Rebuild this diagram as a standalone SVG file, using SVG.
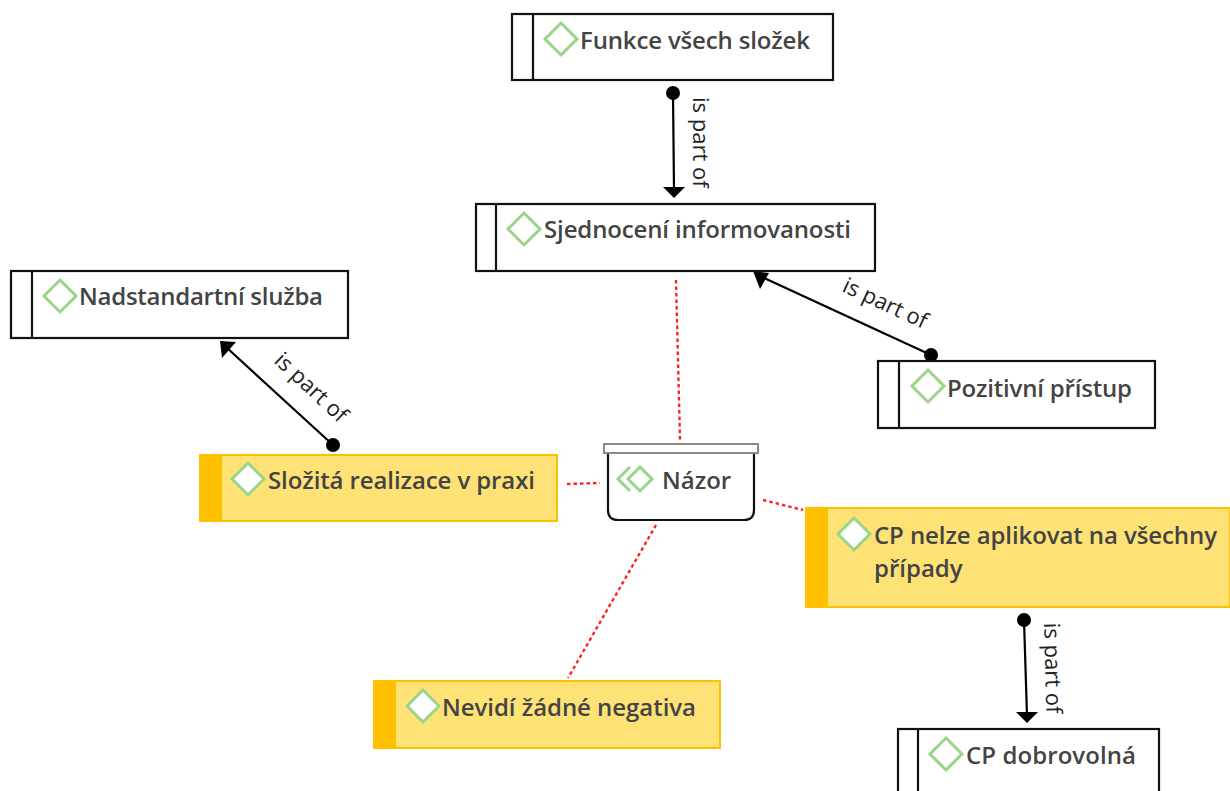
<svg xmlns="http://www.w3.org/2000/svg" width="1230" height="791" viewBox="0 0 1230 791">
<style>
.box{fill:#fff;stroke:#111;stroke-width:2.2}
.div{stroke:#111;stroke-width:2.2;fill:none}
.yb{fill:#fee276;stroke:#ffc000;stroke-width:2}
.ybar{fill:#ffc000}
.dia{fill:#fff;stroke:#9ad488;stroke-width:3}
.t{font-family:"Open Sans","Noto Sans",sans-serif;font-weight:600;font-size:24px;fill:#444}
.l{font-family:"Open Sans","Noto Sans",sans-serif;font-size:22px;fill:#222}
.c{stroke:#000;stroke-width:2.2;fill:none}
.r{stroke:#f22;stroke-width:2.4;stroke-dasharray:3.5 3;fill:none}
</style>
<rect width="1230" height="791" fill="#fff"/>
<g id="connectors">
<path class="r" d="M676 280L680 440"/>
<path class="r" d="M567 484L600 483"/>
<path class="r" d="M763 500L803 510"/>
<path class="r" d="M656 525L568 678"/>
<path class="c" d="M673 93L674 190"/>
<polygon points="663,187 685,187 674,198"/>
<circle cx="673" cy="93" r="7"/>
<path class="c" d="M931 355L762 277"/>
<polygon points="753,271 769,273 760,289"/>
<circle cx="931" cy="355" r="7"/>
<path class="c" d="M333 445L226 347"/>
<polygon points="220,341 236,342 222,358"/>
<circle cx="333" cy="445" r="7"/>
<path class="c" d="M1024 620L1027 716"/>
<polygon points="1016,712 1038,712 1027,723"/>
<circle cx="1024" cy="620" r="7"/>
<text class="l" transform="translate(693,97) rotate(90)">is part of</text>
<text class="l" transform="translate(841,291) rotate(24.8)">is part of</text>
<text class="l" transform="translate(273,362) rotate(43)">is part of</text>
<text class="l" transform="translate(1044,623) rotate(88.5)">is part of</text>
</g>
<g id="n1"><rect class="box" x="512" y="14" width="321" height="66"/><path class="div" d="M533 14V80"/><polygon class="dia" points="561,23 577,39 561,55 545,39"/><text class="t" x="580" y="49" textLength="230">Funkce všech složek</text></g>
<g id="n2"><rect class="box" x="476" y="204" width="399" height="67"/><path class="div" d="M496 204V271"/><polygon class="dia" points="524,213 540,229 524,245 508,229"/><text class="t" x="544" y="238" textLength="307">Sjednocení informovanosti</text></g>
<g id="n3"><rect class="box" x="11" y="271" width="337" height="67"/><path class="div" d="M32 271V338"/><polygon class="dia" points="60,280 76,296 60,312 44,296"/><text class="t" x="79" y="305" textLength="244">Nadstandartní služba</text></g>
<g id="n4"><rect class="box" x="878" y="361" width="277" height="67"/><path class="div" d="M899 361V428"/><polygon class="dia" points="928,370 944,386 928,402 912,386"/><text class="t" x="947" y="397" textLength="185">Pozitivní přístup</text></g>
<g id="n5"><rect class="yb" x="200" y="455" width="357" height="66"/><rect class="ybar" x="199" y="454" width="23" height="68"/><polygon class="dia" points="248,463 264,479 248,495 232,479"/><text class="t" x="268" y="489" textLength="267">Složitá realizace v praxi</text></g>
<g id="n6"><path d="M608 452V510Q608 520 618 520H744Q754 520 754 510V452" fill="#fff" stroke="#111" stroke-width="2.2"/><rect x="604" y="444" width="154" height="9" fill="#fff" stroke="#8a8a8a" stroke-width="2"/><path d="M630 467L618 479L630 491" fill="none" stroke="#9ad488" stroke-width="3"/><polygon class="dia" points="640,467 652,479 640,491 628,479"/><text class="t" x="662" y="489">Názor</text></g>
<g id="n7"><rect class="yb" x="806" y="508" width="424" height="99"/><rect class="ybar" x="805" y="507" width="23" height="101"/><polygon class="dia" points="854,518 870,534 854,550 838,534"/><text class="t" x="874" y="544" textLength="343">CP nelze aplikovat na všechny</text><text class="t" x="874" y="577">případy</text></g>
<g id="n8"><rect class="yb" x="374" y="681" width="346" height="67"/><rect class="ybar" x="373" y="680" width="23" height="69"/><polygon class="dia" points="423,690 439,706 423,722 407,706"/><text class="t" x="442" y="716" textLength="254">Nevidí žádné negativa</text></g>
<g id="n9"><rect class="box" x="898" y="729" width="261" height="70"/><path class="div" d="M918 729V791"/><polygon class="dia" points="946,738 962,754 946,770 930,754"/><text class="t" x="966" y="764" textLength="170">CP dobrovolná</text></g>
</svg>
